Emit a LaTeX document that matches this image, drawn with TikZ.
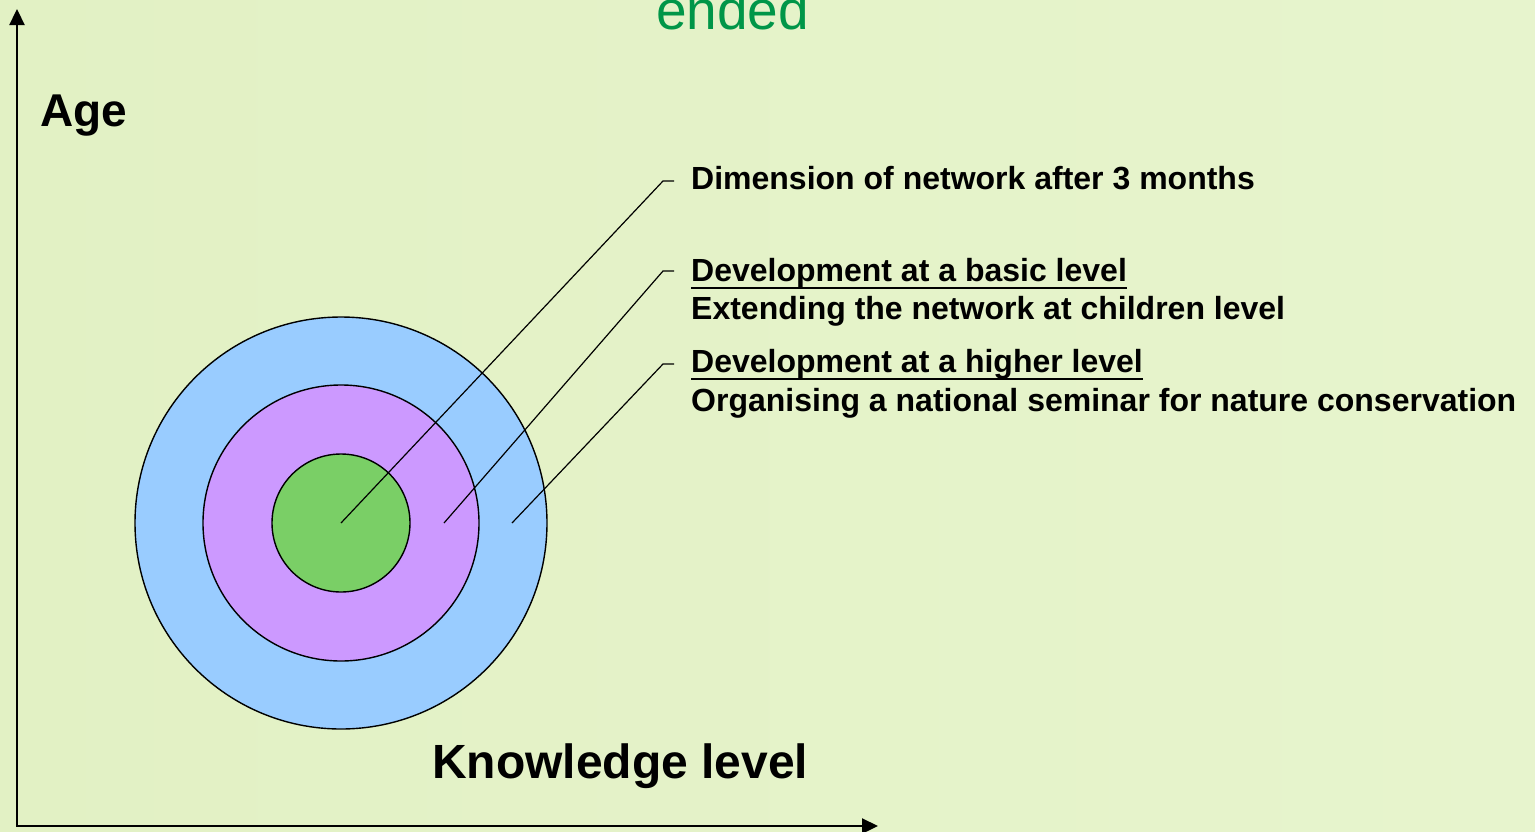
\documentclass[tikz,border=0pt]{standalone}
\usepackage{fontspec}
\setmainfont{Liberation Sans}
\usepackage{tikz}
\usetikzlibrary{arrows.meta}
\usetikzlibrary{positioning}

\definecolor{bggreen}{RGB}{226,241,196}
\definecolor{bglight}{RGB}{231,244,205}
\definecolor{ringblue}{RGB}{153,204,255}
\definecolor{ringpurple}{RGB}{204,153,255}
\definecolor{ringgreen}{RGB}{122,207,102}
\definecolor{titlegreen}{RGB}{0,150,72}

\begin{document}
\begin{tikzpicture}
	[
	x=1pt, y=-1pt,
	> = {Triangle[length=16pt,width=15pt]},
	axis/.style = {line width=2.3pt},
	ring/.style = {draw, circle, line width=1.4pt, inner sep=0pt},
	leader/.style = {line width=1.2pt},
	lbl/.style = {anchor=base west, inner sep=0pt, font=\fontsize{32}{37}\selectfont\bfseries},
	big/.style = {anchor=base west, inner sep=0pt, font=\fontsize{46}{52}\selectfont\bfseries},
	uline/.style = {line width=2.6pt}
	]
	\shade[left color=bggreen, right color=bglight] (0,0) rectangle (1535,831);
	\useasboundingbox (0,0) rectangle (1535,831);
	\clip (0,0) rectangle (1535,831);

	% axes
	\coordinate (ytop) at (17,9);
	\coordinate (xend) at (878,826);
	\draw[axis, <->] (ytop) |- (xend);

	% rings
	\node[ring, fill=ringblue, minimum size=412pt] (outer) at (341,523) {};
	\node[ring, fill=ringpurple, minimum size=276pt] (middle) at (outer.center) {};
	\node[ring, fill=ringgreen, minimum size=138pt] (inner) at (outer.center) {};

	\coordinate (p0) at (inner.center);
	\coordinate (p1) at (444,523);
	\coordinate (p2) at (512,523);
	\coordinate (k0) at (663,181);
	\coordinate (k1) at (663,271);
	\coordinate (k2) at (663,364);

	% labels
	\node[lbl] (dim) at (691,189.5) {Dimension of network after 3 months};
	\node[lbl] (basic) at (691,281.5) {Development at a basic level};
	\node[lbl] (ext) at (691,319.5) {Extending the network at children level};
	\node[lbl] (higher) at (691,372.5) {Development at a higher level};
	\node[lbl] (org) at (691,411.5) {Organising a national seminar for nature conservation};
	\draw[uline] ([yshift=-6.5pt]basic.base west) -- ([yshift=-6.5pt]basic.base east);
	\draw[uline] ([yshift=-6.5pt]higher.base west) -- ([yshift=-6.5pt]higher.base east);

	\draw[leader] (p0) -- (k0) -- ++(11,0);
	\draw[leader] (p1) -- (k1) -- ++(11,0);
	\draw[leader] (p2) -- (k2) -- ++(11,0);

	\node[big] (age) at (40,126) {Age};
	\node[big, font=\fontsize{48}{54}\selectfont\bfseries] (know) at (432,778) {Knowledge level};
	\node[anchor=base west, inner sep=0pt, text=titlegreen, font=\fontsize{55}{60}\selectfont] (ended) at (656,29) {ended};
\end{tikzpicture}
\end{document}
